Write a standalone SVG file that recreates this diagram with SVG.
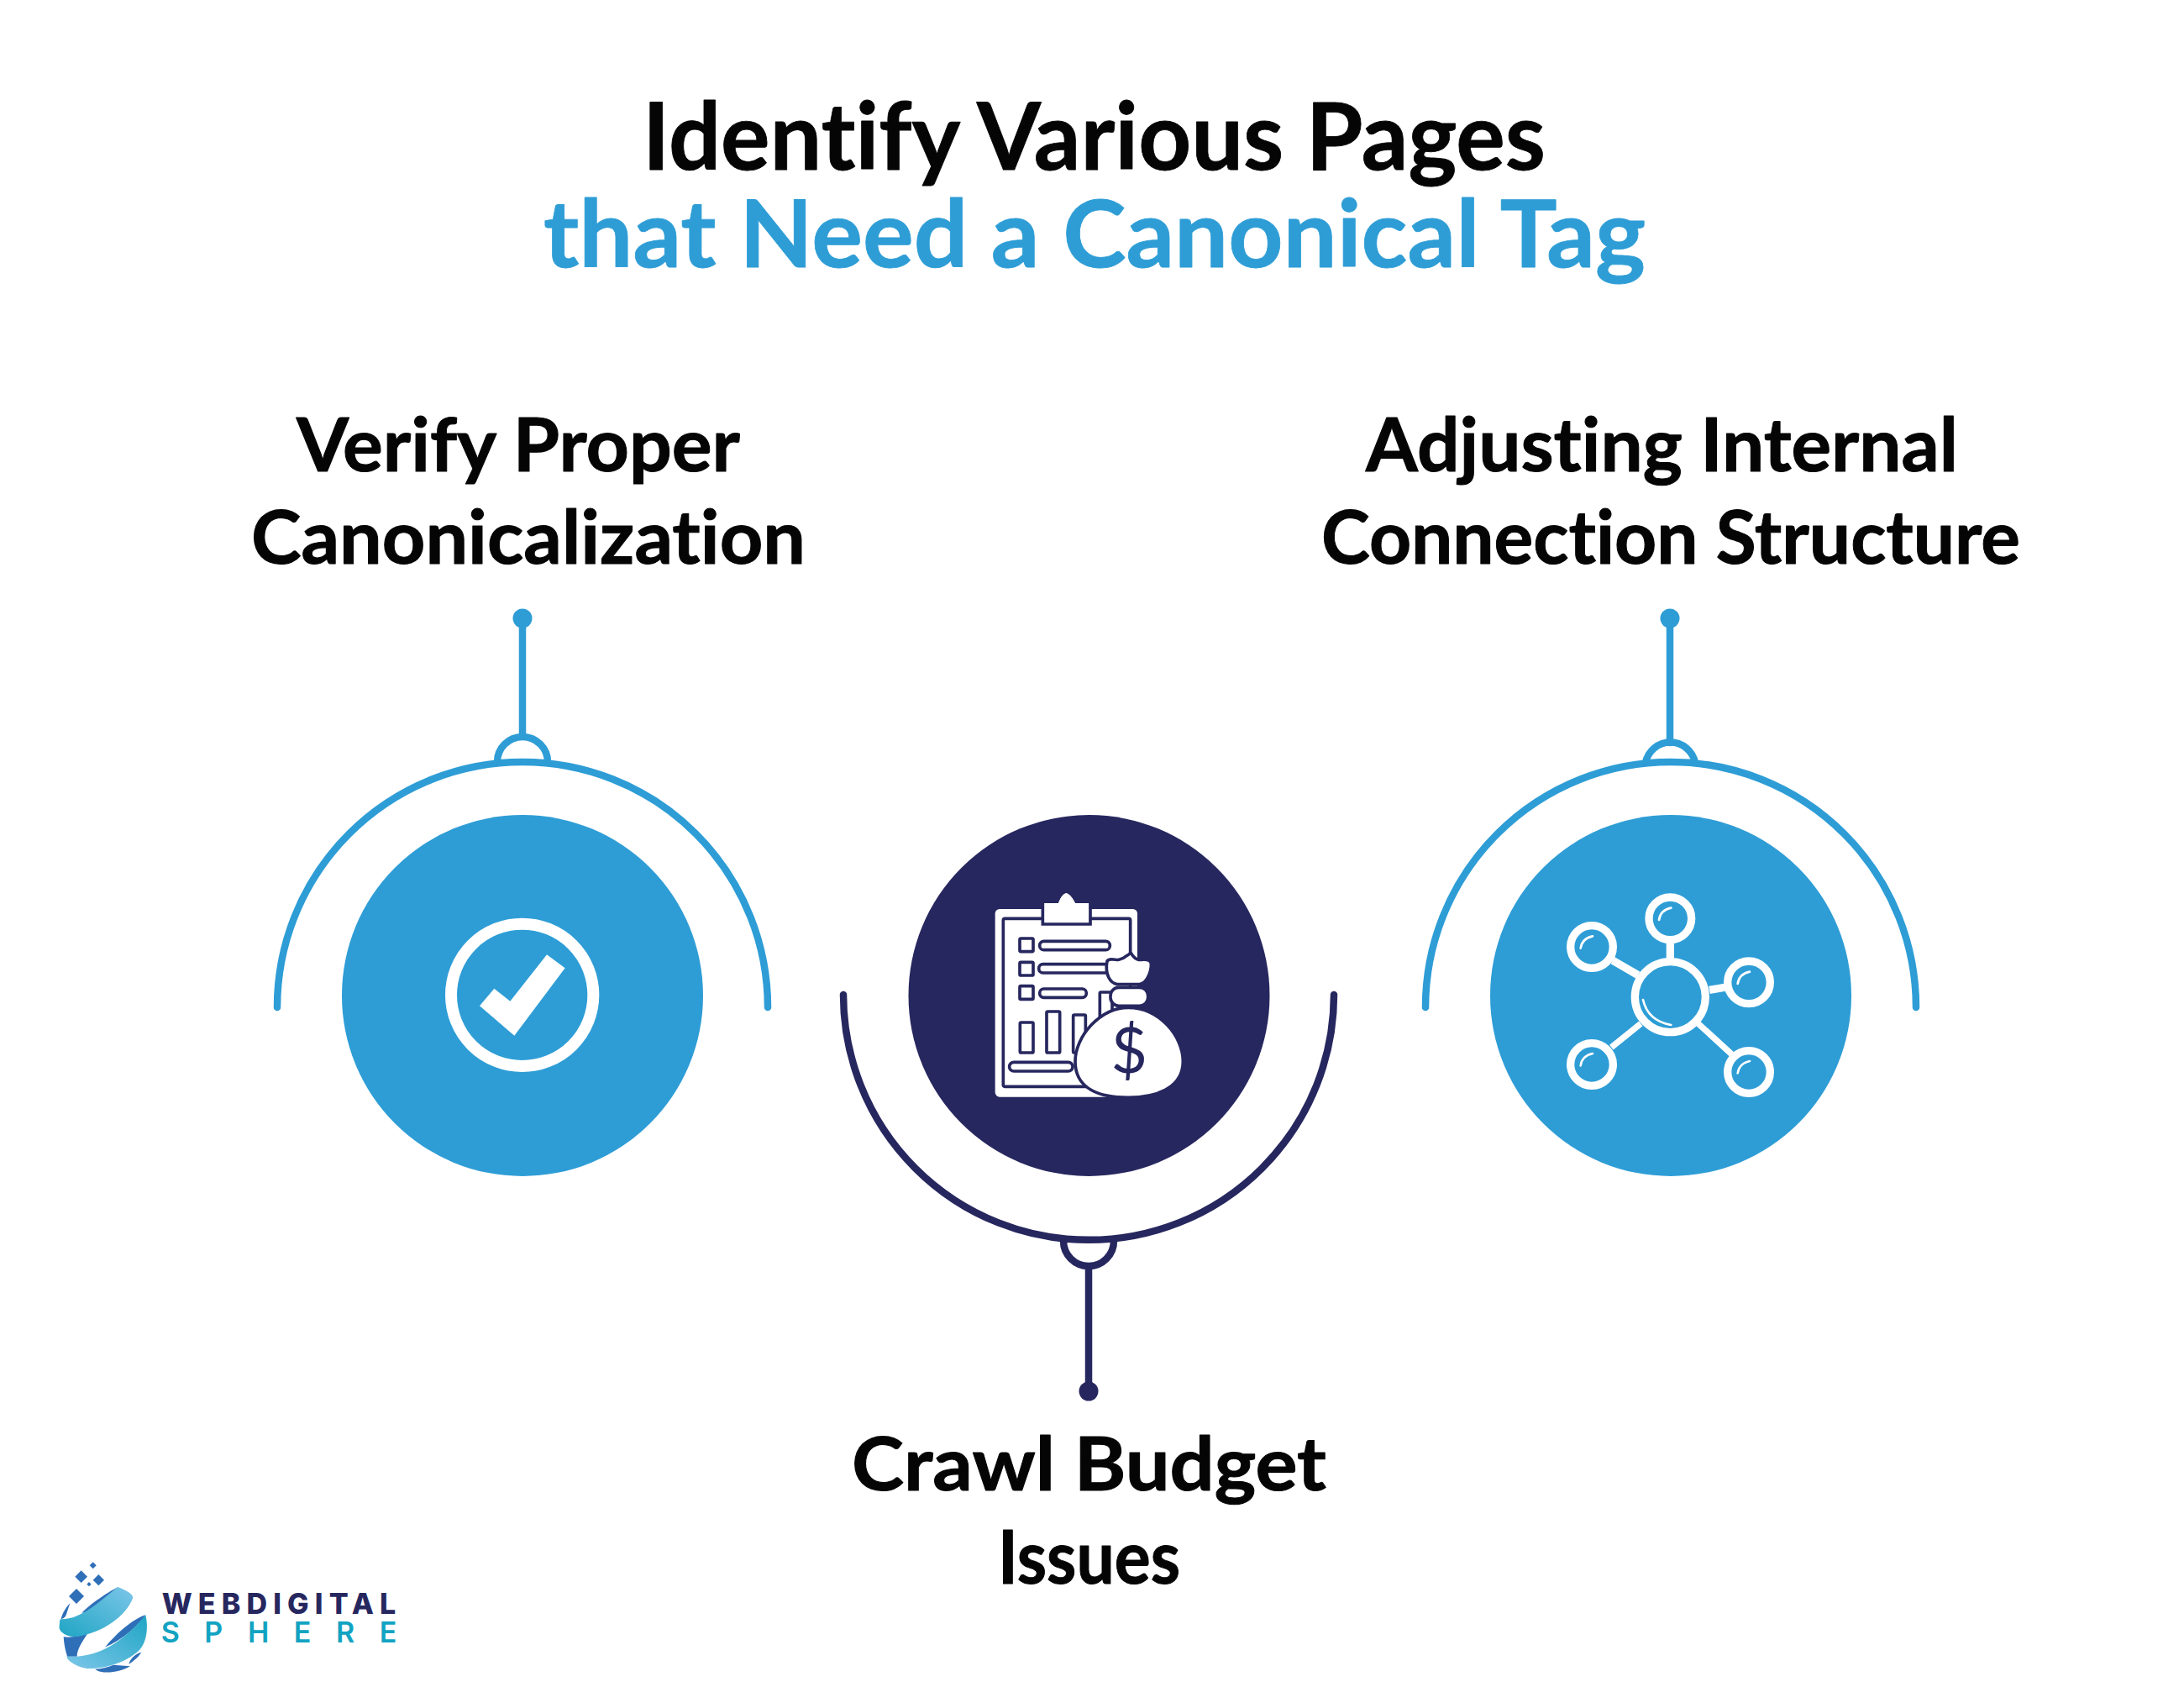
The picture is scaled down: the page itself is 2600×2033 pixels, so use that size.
<svg xmlns="http://www.w3.org/2000/svg" width="2600" height="2033" viewBox="0 0 2600 2033">
<style>
.t{font-family:"Lato","Liberation Sans",sans-serif;font-weight:700;font-variant-ligatures:none;stroke-linejoin:round}
.h{font-size:112px;stroke-width:.8}
.l{font-size:88px;fill:#050505;stroke:#050505;stroke-width:1}
.b{fill:none;stroke:#2e9dd6;stroke-width:8.500;stroke-linecap:round}
.d{fill:none;stroke:#27275f;stroke-width:8.500;stroke-linecap:round}
.ic{fill:none;stroke:#fff}
.dk{fill:#fff;stroke:#27275f;stroke-width:11}
</style>
<defs>
<linearGradient id="g1" x1="0" x2="1" y1="1" y2="0"><stop offset="0" stop-color="#1fa5c4"/><stop offset="1" stop-color="#7cc6e8"/></linearGradient>
<linearGradient id="g2" x1="1" x2="0" y1="0" y2="1"><stop offset="0" stop-color="#1fa5c4"/><stop offset="1" stop-color="#7cc6e8"/></linearGradient>
</defs>
<rect width="2600" height="2033" fill="#fff"/>
<g id="title">
<text class="t h" x="765" y="202" textLength="1075" lengthAdjust="spacingAndGlyphs" fill="#050505" stroke="#050505">Identify Various Pages</text>
<text class="t h" x="647" y="318" textLength="1312" lengthAdjust="spacingAndGlyphs" fill="#2e9dd6" stroke="#2e9dd6">that Need a Canonical Tag</text>
</g>
<g id="connectors">
<path class="b" d="M622 738V874"/><circle cx="622" cy="736" r="11.500" fill="#2e9dd6"/>
<path class="b" d="M592 907A30 30 0 0 1 652 907"/>
<path class="b" d="M330 1199A292 292 0 0 1 914 1199"/>
<path class="d" d="M1296 1510V1656"/><circle cx="1296" cy="1656" r="11.500" fill="#27275f"/>
<path class="d" d="M1266 1477A30 30 0 0 0 1326 1477"/>
<path class="d" d="M1004 1184A292 292 0 0 0 1588 1184"/>
<path class="b" d="M1988 738V884"/><circle cx="1988" cy="736" r="11.500" fill="#2e9dd6"/>
<path class="b" d="M1959 908A30 30 0 0 1 2018 908"/>
<path class="b" d="M1697 1199A292 292 0 0 1 2281 1199"/>
</g>
<g id="node-verify">
<circle cx="622" cy="1185" r="215" fill="#2e9dd6"/>
<g transform="translate(500 860) scale(.33333)">
<circle class="ic" cx="365" cy="973" r="254" stroke-width="42"/>
<path d="M453 829L518 877L337 1118L213 1012L265 950L322 995Z" fill="#fff"/>
</g>
<text class="t l" x="353" y="561" textLength="528" lengthAdjust="spacingAndGlyphs">Verify Proper</text>
<text class="t l" x="299" y="671" textLength="660" lengthAdjust="spacingAndGlyphs">Canonicalization</text>
</g>
<g id="node-crawl">
<circle cx="1296.500" cy="1185" r="215" fill="#27275f"/>
<g transform="translate(1080 1020) scale(.33333)">
<rect x="314" y="186" width="508" height="671" rx="16" fill="#fff"/>
<rect x="343" y="220" width="454" height="600" rx="6" class="dk"/>
<path d="M484 165H540C550 140 560 130 568 130C578 130 590 145 600 165H650V240H484Z" fill="#fff"/>
<path d="M484 165V240H654V165" fill="none" stroke="#27275f" stroke-width="11"/>
<path d="M540 165C550 140 560 130 568 130C578 130 590 145 600 165Z" fill="#fff"/>
<rect x="402" y="291" width="48" height="47" rx="4" class="dk"/>
<rect x="402" y="376" width="48" height="47" rx="4" class="dk"/>
<rect x="402" y="461" width="48" height="47" rx="4" class="dk"/>
<rect x="473" y="301" width="251" height="31" rx="15" class="dk"/>
<rect x="470" y="383" width="252" height="31" rx="15" class="dk"/>
<rect x="473" y="471" width="167" height="31" rx="15" class="dk"/>
<rect x="403" y="591" width="47" height="108" rx="4" class="dk"/>
<rect x="498" y="552" width="47" height="147" rx="4" class="dk"/>
<rect x="593" y="564" width="44" height="135" rx="4" class="dk"/>
<rect x="688" y="483" width="44" height="100" rx="4" class="dk"/>
<rect x="365" y="733" width="226" height="32" rx="16" class="dk"/>
<path d="M790 538C900 538 985 640 985 730C985 830 880 859 790 859C690 859 600 830 600 730C600 640 690 538 790 538Z" class="dk"/>
<path d="M714 372C730 352 745 385 785 352C800 345 795 335 805 352C830 385 850 352 870 375C875 400 860 450 830 455H750C725 450 705 420 714 372Z" class="dk"/>
<rect x="726" y="466" width="134" height="66" rx="30" class="dk"/>
<text x="793" y="770" font-family="Lato,sans-serif" font-weight="400" font-size="225" fill="#27275f" text-anchor="middle">$</text>
</g>
<text class="t l" x="1014" y="1774" textLength="565" lengthAdjust="spacingAndGlyphs">Crawl Budget</text>
<text class="t l" x="1188" y="1885" textLength="217" lengthAdjust="spacingAndGlyphs">Issues</text>
</g>
<g id="node-adjust">
<circle cx="1989" cy="1185" r="215" fill="#2e9dd6"/>
<g transform="translate(1820 1030) scale(.33333)">
<g class="ic" stroke-width="28">
<circle cx="505" cy="470" r="126"/>
<circle cx="505" cy="190" r="76"/>
<circle cx="225" cy="291" r="76"/>
<circle cx="786" cy="418" r="76"/>
<circle cx="225" cy="711" r="76"/>
<circle cx="786" cy="738" r="76"/>
<path d="M505 270V335M300 340L390 392M645 445L705 435"/>
<path stroke-width="22" d="M295 650L400 565M605 565L725 675"/>
</g>
<g class="ic" stroke-width="8" stroke-linecap="round">
<path d="M408 480Q425 555 508 570"/>
<path d="M465 195Q470 160 508 152"/>
<path d="M185 296Q190 261 228 253"/>
<path d="M746 423Q751 388 789 380"/>
<path d="M185 715Q190 680 228 672"/>
<path d="M746 742Q751 707 789 699"/>
</g>
</g>
<text class="t l" x="1626" y="561" textLength="705" lengthAdjust="spacingAndGlyphs">Adjusting Internal</text>
<text class="t l" x="1573" y="671" textLength="832" lengthAdjust="spacingAndGlyphs">Connection Structure</text>
</g>
<g id="logo" transform="translate(40 1840) scale(.33333)">
<g fill="#2f6fb8">
<path d="M212 58L224 70L212 82L200 70Z"/>
<path d="M170 88L192 110L170 132L148 110Z"/>
<path d="M232 102L252 122L232 142L212 122Z"/>
<path d="M198 129L206 137L198 145L190 137Z"/>
<path d="M153 153L180 180L153 207L126 180Z"/>
<path d="M130 205C110 225 100 250 98 262C110 258 115 255 120 235Z"/>
<path d="M107 325C110 370 120 390 120 395L155 395C155 370 175 340 195 310C160 325 130 328 107 325Z"/>
<path d="M300 148C240 180 190 220 172 240C230 225 280 190 300 148Z"/>
<path d="M400 247C350 262 290 320 255 362C310 340 370 290 400 247Z"/>
<path d="M220 440C240 458 300 456 345 430L285 425C265 435 240 438 220 440Z"/>
<path d="M340 422C360 410 378 392 385 380C370 382 345 400 340 422Z"/>
</g>
<path d="M300 147C350 165 355 180 355 185C330 250 250 310 150 325C120 325 95 310 92 295C92 275 95 260 95 262C170 265 240 195 300 147Z" fill="url(#g1)"/>
<path d="M400 247C410 290 405 340 380 370C330 420 250 440 190 438C150 430 120 410 118 395L155 395C250 390 330 330 400 247Z" fill="url(#g2)"/>
<text x="458" y="242" font-family="Inter,Liberation Sans,sans-serif" font-weight="800" font-size="102" fill="#27275f" textLength="836">WEBDIGITAL</text>
<text x="455" y="345" font-family="Inter,Liberation Sans,sans-serif" font-weight="600" font-size="102" fill="#12a3c2" textLength="842">SPHERE</text>
</g>
</svg>
